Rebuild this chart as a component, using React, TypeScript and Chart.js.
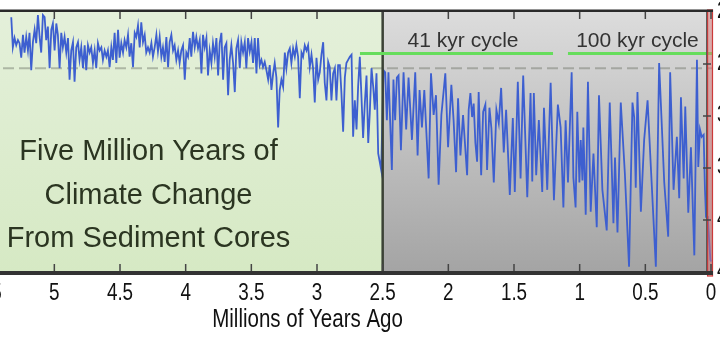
import React, { useEffect, useRef } from "react";
import { Chart, registerables } from "chart.js";

Chart.register(...registerables);

// Ages (millions of years ago) and benthic d18O (per mil) — Pliocene / early Pleistocene part
const AGES_PLIOCENE = [
  5.328, 5.316, 5.303, 5.290, 5.277, 5.265, 5.252, 5.239, 5.227, 5.214,
  5.201, 5.189, 5.176, 5.163, 5.150, 5.138, 5.125, 5.112, 5.100, 5.087,
  5.074, 5.062, 5.049, 5.036, 5.023, 5.011, 4.998, 4.985, 4.973, 4.960,
  4.947, 4.935, 4.922, 4.909, 4.896, 4.884, 4.871, 4.858, 4.846, 4.833,
  4.820, 4.808, 4.795, 4.782, 4.769, 4.757, 4.744, 4.731, 4.719, 4.706,
  4.693, 4.681, 4.668, 4.655, 4.642, 4.630, 4.617, 4.604, 4.592, 4.579,
  4.566, 4.554, 4.541, 4.528, 4.515, 4.503, 4.490, 4.477, 4.465, 4.452,
  4.439, 4.427, 4.414, 4.401, 4.388, 4.376, 4.363, 4.350, 4.338, 4.325,
  4.312, 4.300, 4.287, 4.274, 4.261, 4.249, 4.236, 4.223, 4.211, 4.198,
  4.185, 4.173, 4.160, 4.147, 4.134, 4.122, 4.109, 4.096, 4.084, 4.071,
  4.058, 4.046, 4.033, 4.020, 4.007, 3.995, 3.982, 3.969, 3.957, 3.944,
  3.931, 3.919, 3.906, 3.893, 3.880, 3.868, 3.855, 3.842, 3.830, 3.817,
  3.804, 3.792, 3.779, 3.766, 3.753, 3.741, 3.728, 3.715, 3.703, 3.690,
  3.677, 3.665, 3.652, 3.639, 3.626, 3.614, 3.601, 3.588, 3.576, 3.563,
  3.550, 3.538, 3.525, 3.512, 3.499, 3.487, 3.474, 3.461, 3.449, 3.436,
  3.423, 3.411, 3.398, 3.385, 3.372, 3.360, 3.347, 3.334, 3.322, 3.309,
  3.296, 3.284, 3.271, 3.258, 3.245, 3.233, 3.220, 3.207, 3.195, 3.182,
  3.169, 3.157, 3.144, 3.131, 3.118, 3.106, 3.093, 3.080, 3.068, 3.055,
  3.042, 3.030, 3.017, 3.004, 2.991, 2.979, 2.966, 2.953, 2.941, 2.928,
  2.915, 2.903, 2.890, 2.877, 2.864, 2.852, 2.839, 2.826, 2.814, 2.801,
  2.788, 2.776, 2.763, 2.750, 2.737, 2.725, 2.712, 2.699, 2.687, 2.674,
  2.661, 2.649, 2.636, 2.623, 2.610, 2.598, 2.585, 2.572, 2.560, 2.547,
  2.534,
];
const D18O_PLIOCENE = [
  2.05, 2.34, 2.25, 2.32, 2.27, 2.30, 2.44, 2.22, 2.39, 2.24,
  2.37, 2.20, 2.56, 2.29, 2.17, 2.30, 2.03, 2.24, 2.39, 2.03,
  2.05, 2.27, 2.14, 2.54, 2.17, 2.11, 2.37, 2.11, 2.22, 2.54,
  2.20, 2.34, 2.24, 2.39, 2.25, 2.65, 2.37, 2.29, 2.67, 2.34,
  2.29, 2.46, 2.34, 2.54, 2.32, 2.56, 2.32, 2.39, 2.34, 2.49,
  2.37, 2.54, 2.30, 2.37, 2.34, 2.46, 2.37, 2.43, 2.37, 2.53,
  2.34, 2.46, 2.20, 2.49, 2.17, 2.44, 2.30, 2.39, 2.27, 2.34,
  2.22, 2.43, 2.30, 2.53, 2.20, 2.24, 2.13, 2.34, 2.10, 2.29,
  2.22, 2.39, 2.34, 2.39, 2.30, 2.43, 2.34, 2.22, 2.38, 2.24,
  2.43, 2.34, 2.48, 2.24, 2.53, 2.29, 2.22, 2.37, 2.32, 2.46,
  2.37, 2.49,
  2.37, 2.32, 2.65, 2.39, 2.43, 2.25, 2.43, 2.19, 2.34, 2.24,
  2.35, 2.27, 2.59, 2.22, 2.34, 2.25, 2.61, 2.37, 2.49, 2.30,
  2.43, 2.25, 2.61, 2.30, 2.20, 2.65, 2.34, 2.30, 2.80, 2.46,
  2.32, 2.49, 2.77, 2.35, 2.27, 2.54, 2.29, 2.39, 2.29, 2.54,
  2.25, 2.38, 2.29, 2.49, 2.25, 2.59, 2.25, 2.51, 2.46, 2.53,
  2.48, 2.56, 2.65, 2.51, 2.75, 2.59, 2.49, 2.63, 3.11, 2.75,
  2.65, 2.72, 2.39, 2.54, 2.39, 2.35, 2.49, 2.35, 2.43, 2.32,
  2.43, 2.83, 2.39, 2.43, 2.32, 2.37, 2.32, 2.53, 2.41, 2.54,
  2.87, 2.44, 2.65, 2.58, 2.41, 2.29, 2.68, 2.85, 2.48, 2.53,
  2.85, 2.59, 2.54, 2.85, 2.51, 2.51, 2.78, 3.15, 2.63, 2.49,
  2.46, 2.43, 2.41, 3.20, 2.85, 3.13, 2.72, 2.43, 2.83, 3.21,
  2.88, 2.61, 3.26, 2.97, 2.54, 2.72, 2.94, 2.59, 3.36,
];

// Pleistocene part (41 kyr and 100 kyr cycles)
const AGES_PLEISTOCENE = [
  2.511, 2.494, 2.481, 2.468, 2.456, 2.430, 2.418, 2.405, 2.392, 2.379,
  2.361, 2.341, 2.321, 2.303, 2.277, 2.252, 2.234, 2.219, 2.201, 2.183,
  2.150, 2.132, 2.112, 2.094, 2.074, 2.053, 2.023, 2.002, 1.977, 1.960,
  1.941, 1.926, 1.908, 1.888, 1.857, 1.845, 1.832, 1.819, 1.807, 1.794,
  1.781, 1.769, 1.750, 1.735, 1.718, 1.705, 1.687, 1.672, 1.654, 1.634,
  1.616, 1.598, 1.578, 1.560, 1.532, 1.509, 1.494, 1.471, 1.450, 1.430,
  1.399, 1.374, 1.361, 1.349, 1.331, 1.311, 1.285, 1.272, 1.247, 1.221,
  1.196, 1.166, 1.145, 1.124, 1.107, 1.089, 1.061, 1.048, 1.031, 1.018,
  1.002, 0.992, 0.979, 0.972, 0.954, 0.937, 0.916, 0.895, 0.870, 0.853,
  0.827, 0.794, 0.771, 0.743, 0.731, 0.712, 0.687, 0.656, 0.624, 0.598,
  0.585, 0.573, 0.560, 0.534, 0.509, 0.483, 0.458, 0.420, 0.395, 0.356,
  0.326, 0.311, 0.285, 0.260, 0.242, 0.229, 0.208, 0.196, 0.173, 0.153,
  0.127, 0.107, 0.097, 0.084, 0.071, 0.056, 0.046, 0.038, 0.025, 0.005,
  0.000,
];
const D18O_PLEISTOCENE = [
  3.52, 2.56, 2.58, 3.04, 2.58, 3.52, 2.65, 3.04, 2.63, 2.61,
  3.33, 2.58, 3.13, 2.63, 3.23, 2.58, 3.38, 2.75, 3.11, 2.75,
  3.60, 2.59, 2.99, 2.80, 3.66, 2.99, 2.59, 3.30, 2.70, 3.04,
  3.54, 2.83, 3.38, 2.99, 3.57, 2.94, 2.78, 3.01, 2.88, 3.26,
  3.44, 2.77, 3.57, 2.96, 2.89, 3.52, 2.92, 3.12, 3.64, 2.94,
  3.07, 2.73, 3.35, 2.94, 3.76, 3.02, 3.73, 2.67, 3.60, 2.61,
  3.78, 2.78, 3.63, 2.78, 3.57, 3.04, 3.73, 2.92, 3.71, 2.68,
  3.81, 2.89, 3.11, 3.88, 3.04, 3.64, 2.58, 3.59, 3.88, 2.96,
  3.64, 3.23, 3.62, 3.11, 3.95, 2.67, 3.92, 3.36, 4.07, 2.80,
  3.71, 4.10, 2.87, 4.03, 3.40, 4.12, 2.87, 3.55, 4.45, 2.87,
  3.01, 3.69, 2.77, 3.92, 3.23, 2.85, 3.49, 4.45, 2.49, 3.64,
  4.16, 2.58, 3.71, 3.20, 3.79, 2.82, 3.60, 2.91, 3.93, 3.30,
  4.34, 2.46, 3.49, 3.13, 3.20, 3.18, 3.71, 3.97, 3.97, 4.38,
  4.40,
];

const X_TICKS = [0, 0.5, 1, 1.5, 2, 2.5, 3, 3.5, 4, 4.5, 5, 5.5];
const Y_TICKS = [2, 2.5, 3, 3.5, 4, 4.5];
const X_MIN = -0.0152;
const X_MAX = 6.0;
const Y_MIN = 2.0;
const Y_MAX = 4.5;

const TITLE_LINES = ["Five Million Years of", "Climate Change", "From Sediment Cores"];
const TITLE_AGE = 4.283;
const X_TITLE = "Millions of Years Ago";
const X_TITLE_AGE = 3.072;
const CYCLE_LABELS = ["41 kyr cycle", "100 kyr cycle"];
const CYCLE_FROM = [2.673, 1.089];
const CYCLE_TO = [1.203, -0.0152];
const CYCLE_LABEL_AGE = [1.888, 0.56];
const REGIME_SHIFT = 2.5;
const PRESENT_D18O = 2.54;
const RECENT_FROM = 0.03;

const SANS = "'Liberation Sans', Arial, Helvetica, sans-serif";
const CONDENSE = 0.82;

function narrowText(ctx: any, text: string, x: number, y: number, align: string) {
  ctx.save();
  ctx.translate(x, y);
  ctx.scale(CONDENSE, 1);
  ctx.textAlign = align;
  ctx.fillText(text, 0, 0);
  ctx.restore();
}

const decorPlugin = {
  id: "decor",
  beforeDatasetsDraw(chart: any) {
    const { ctx, chartArea: a, scales } = chart;
    const x = scales.x;
    const y = scales.y;
    const xb = x.getPixelForValue(REGIME_SHIFT);
    ctx.save();
    let g = ctx.createLinearGradient(0, a.top, 0, a.bottom);
    g.addColorStop(0, "#e4f0da");
    g.addColorStop(1, "#d6e9c4");
    ctx.fillStyle = g;
    ctx.fillRect(a.left, a.top, xb - a.left, a.bottom - a.top);
    g = ctx.createLinearGradient(0, a.top, 0, a.bottom);
    g.addColorStop(0, "#dcdcdc");
    g.addColorStop(1, "#a4a4a4");
    ctx.fillStyle = g;
    ctx.fillRect(xb, a.top, a.right - xb, a.bottom - a.top);

    const yd = y.getPixelForValue(PRESENT_D18O);
    ctx.setLineDash([11, 5]);
    ctx.lineWidth = 2;
    ctx.strokeStyle = "rgba(110,115,105,0.45)";
    ctx.beginPath();
    ctx.moveTo(a.left, yd);
    ctx.lineTo(a.right, yd);
    ctx.stroke();
    ctx.setLineDash([]);

    ctx.fillStyle = "#2b3521";
    ctx.font = `29px ${SANS}`;
    ctx.textAlign = "center";
    ctx.textBaseline = "alphabetic";
    const cx = x.getPixelForValue(TITLE_AGE);
    TITLE_LINES.forEach((t, i) => ctx.fillText(t, cx, a.top + 148 + i * 43.5));
    ctx.restore();
  },
  afterDatasetsDraw(chart: any) {
    const { ctx, chartArea: a, scales } = chart;
    const x = scales.x;
    const y = scales.y;
    const xb = x.getPixelForValue(REGIME_SHIFT);
    ctx.save();
    // regime separator
    ctx.fillStyle = "#3b4236";
    ctx.fillRect(xb - 1.25, a.top, 2.5, a.bottom - a.top);

    // cycle bars and labels
    CYCLE_LABELS.forEach((label, i) => {
      const x1 = x.getPixelForValue(CYCLE_FROM[i]);
      const x2 = x.getPixelForValue(CYCLE_TO[i]);
      ctx.fillStyle = "#66dd5c";
      ctx.fillRect(x1, a.top + 40, x2 - x1, 3);
      ctx.fillStyle = "#333333";
      ctx.font = `21px ${SANS}`;
      ctx.textAlign = "center";
      ctx.textBaseline = "alphabetic";
      ctx.fillText(label, x.getPixelForValue(CYCLE_LABEL_AGE[i]), a.top + 35);
    });

    // recent-period box
    const rx = x.getPixelForValue(RECENT_FROM);
    ctx.fillStyle = "rgba(225,120,120,0.45)";
    ctx.fillRect(rx, a.top - 2, a.right - rx, a.bottom - a.top + 6);
    ctx.strokeStyle = "#cc3a3a";
    ctx.lineWidth = 1.2;
    ctx.strokeRect(rx + 0.5, a.top - 2, a.right - rx - 1, a.bottom - a.top + 6);
    ctx.fillStyle = "#555";
    ctx.fillRect(rx - 1, a.top, 1, a.bottom - a.top);

    // frame
    ctx.fillStyle = "#2a2a2a";
    ctx.fillRect(a.left, a.top - 2.5, a.right - a.left, 2.5);
    ctx.fillStyle = "#333333";
    ctx.fillRect(a.left, a.bottom - 1, a.right - a.left, 4);

    // ticks
    ctx.strokeStyle = "#444";
    ctx.lineWidth = 1.5;
    X_TICKS.forEach((v) => {
      const px = x.getPixelForValue(v);
      ctx.beginPath();
      ctx.moveTo(px, a.top);
      ctx.lineTo(px, a.top + 7);
      ctx.moveTo(px, a.bottom - 1);
      ctx.lineTo(px, a.bottom - 8);
      ctx.stroke();
    });
    Y_TICKS.slice(1, -1).forEach((v) => {
      const py = y.getPixelForValue(v);
      ctx.beginPath();
      ctx.moveTo(a.right - 10, py);
      ctx.lineTo(a.right - 2, py);
      ctx.stroke();
    });

    // tick labels (condensed, like the original)
    ctx.fillStyle = "#111";
    ctx.font = `23px ${SANS}`;
    ctx.textBaseline = "middle";
    X_TICKS.forEach((v) => narrowText(ctx, String(v), x.getPixelForValue(v), a.bottom + 22, "center"));
    Y_TICKS.forEach((v) => narrowText(ctx, String(v), a.right + 4, y.getPixelForValue(v), "left"));

    // axis title
    ctx.textBaseline = "alphabetic";
    ctx.font = `25px ${SANS}`;
    narrowText(ctx, X_TITLE, x.getPixelForValue(X_TITLE_AGE), a.bottom + 55, "center");
    ctx.restore();
  },
};

export default function App() {
  const ref = useRef<HTMLCanvasElement>(null);
  useEffect(() => {
    const canvas = ref.current!;
    const points = [
      ...AGES_PLIOCENE.map((age, i) => ({ x: age, y: D18O_PLIOCENE[i] })),
      ...AGES_PLEISTOCENE.map((age, i) => ({ x: age, y: D18O_PLEISTOCENE[i] })),
    ];
    const chart = new Chart(canvas, {
      type: "line",
      data: {
        datasets: [
          {
            data: points,
            borderColor: "#3d5fd0",
            borderWidth: 1.8,
            pointRadius: 0,
            tension: 0,
            fill: false,
          },
        ],
      },
      options: {
        responsive: false,
        animation: false,
        devicePixelRatio: 1,
        layout: { padding: { top: 12, left: 0, right: 0, bottom: 0 } },
        plugins: {
          legend: { display: false },
          tooltip: { enabled: false },
          title: { display: false },
        },
        scales: {
          x: {
            type: "linear",
            reverse: true,
            min: X_MIN,
            max: X_MAX,
            grid: { display: false, drawTicks: false },
            border: { display: false },
            ticks: { display: false },
            afterBuildTicks: (s: any) => {
              s.ticks = X_TICKS.map((v) => ({ value: v }));
            },
            afterFit: (s: any) => {
              s.height = 68;
              s.paddingLeft = 0;
              s.paddingRight = 0;
            },
          },
          y: {
            type: "linear",
            position: "right",
            reverse: true,
            min: Y_MIN,
            max: Y_MAX,
            grid: { display: false, drawTicks: false },
            border: { display: false },
            ticks: { display: false },
            afterBuildTicks: (s: any) => {
              s.ticks = Y_TICKS.map((v) => ({ value: v }));
            },
            afterFit: (s: any) => {
              s.width = 60;
              s.paddingTop = 0;
              s.paddingBottom = 0;
            },
          },
        },
      },
      plugins: [decorPlugin],
    });
    return () => chart.destroy();
  }, []);
  return (
    <div
      style={{
        position: "fixed",
        left: 0,
        top: 0,
        width: 720,
        height: 340,
        overflow: "hidden",
        background: "#fff",
      }}
    >
      <canvas
        ref={ref}
        width={850}
        height={340}
        style={{ position: "absolute", left: -77, top: 0, width: 850, height: 340 }}
      />
    </div>
  );
}
